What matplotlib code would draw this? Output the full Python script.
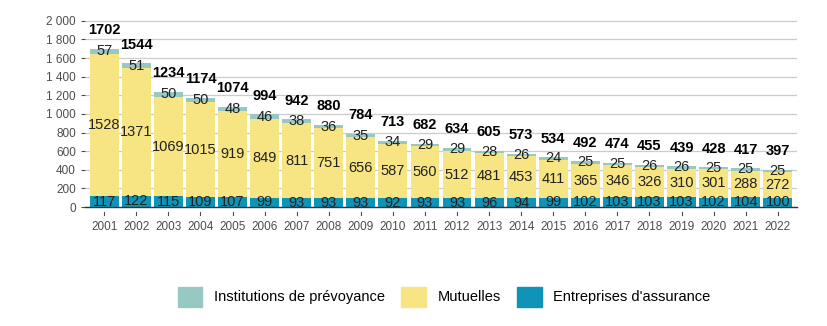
import numpy as np
import matplotlib
matplotlib.use("Agg")
import matplotlib.pyplot as plt
from matplotlib.patches import Patch

plt.rcParams['font.family'] = ['Liberation Sans', 'DejaVu Sans']

years = [str(y) for y in range(2001, 2023)]
entreprises = [117, 122, 115, 109, 107, 99, 93, 93, 93, 92, 93, 93, 96, 94, 99, 102, 103, 103, 103, 102, 104, 100]
mutuelles = [1528, 1371, 1069, 1015, 919, 849, 811, 751, 656, 587, 560, 512, 481, 453, 411, 365, 346, 326, 310, 301, 288, 272]
institutions = [57, 51, 50, 50, 48, 46, 38, 36, 35, 34, 29, 29, 28, 26, 24, 25, 25, 26, 26, 25, 25, 25]
totals = [1702, 1544, 1234, 1174, 1074, 994, 942, 880, 784, 713, 682, 634, 605, 573, 534, 492, 474, 455, 439, 428, 417, 397]

c_ent = '#0f93b7'
c_mut = '#f7e483'
c_inst = '#97c8c1'

fig = plt.figure(figsize=(8.27, 3.26), dpi=100)
ax = fig.add_axes([85/827, 1 - 207/326, 712/827, 189/326])

x = np.arange(len(years))
ent = np.array(entreprises)
mut = np.array(mutuelles)
inst = np.array(institutions)

w = 0.9
ax.bar(x, ent, width=w, color=c_ent, zorder=2)
ax.bar(x, mut, width=w, bottom=ent, color=c_mut, zorder=2)
ax.bar(x, inst, width=w, bottom=ent + mut, color=c_inst, zorder=2)

# labels inside each segment + bold total on top
for i in range(len(x)):
    ax.text(x[i], ent[i] / 2, str(ent[i]), ha='center', va='center', fontsize=10.5, color='#222222', zorder=3)
    ax.text(x[i], ent[i] + mut[i] / 2, str(mut[i]), ha='center', va='center', fontsize=10.5, color='#222222', zorder=3)
    ax.text(x[i], ent[i] + mut[i] + inst[i] / 2, str(inst[i]), ha='center', va='center', fontsize=10.5, color='#222222', zorder=3)
    ax.text(x[i], totals[i] + 200, str(totals[i]), ha='center', va='center', fontsize=10.5, fontweight='bold', color='black', zorder=3)

ax.set_xlim(-0.6, len(x) - 0.4)
ax.set_ylim(0, 2030)
ax.set_yticks(range(0, 2001, 200))
ax.set_yticklabels(['{:,}'.format(v).replace(',', ' ') for v in range(0, 2001, 200)])
ax.set_xticks(x)
ax.set_xticklabels(years)
ax.tick_params(axis='both', labelsize=8.5, colors='#4d4d4d', length=3, width=0.8)
ax.tick_params(axis='x', pad=10, length=0)
ax.grid(axis='y', color='#cccccc', linewidth=0.9, zorder=0)
for s in ['top', 'right', 'left']:
    ax.spines[s].set_visible(False)
ax.spines['bottom'].set_color('#333333')
ax.spines['bottom'].set_linewidth(1.0)
ax.spines['bottom'].set_zorder(4)

# small detached x ticks like the original
for xi in x:
    ax.plot([xi, xi], [-55, -90], color='#4d4d4d', linewidth=0.8, clip_on=False)

handles = [Patch(color=c_inst, label='Institutions de prévoyance'),
           Patch(color=c_mut, label='Mutuelles'),
           Patch(color=c_ent, label="Entreprises d'assurance")]
fig.legend(handles=handles, loc='center', bbox_to_anchor=(0.537, 0.09), ncol=3, frameon=False,
           fontsize=10.5, handlelength=1.7, handleheight=1.7, columnspacing=1.1, handletextpad=0.8)

fig.savefig('out.png', dpi=100)
